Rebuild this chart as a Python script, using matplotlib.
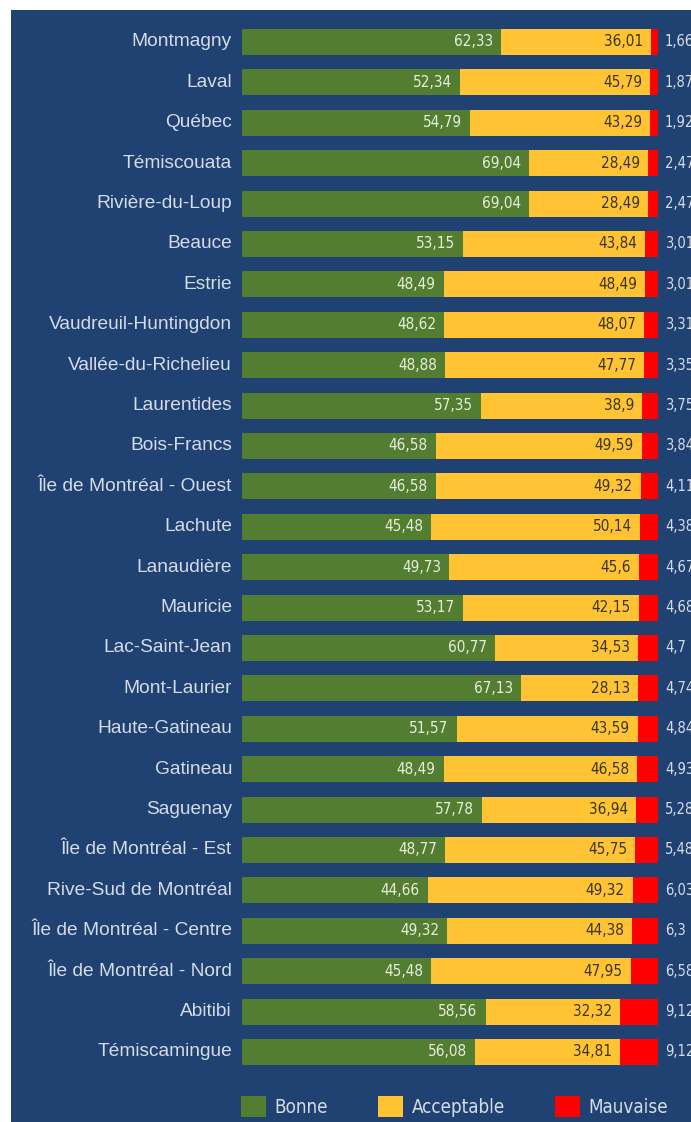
import matplotlib
matplotlib.use("Agg")
import matplotlib.pyplot as plt
from matplotlib.patches import Patch

regions = ["Montmagny", "Laval", "Québec", "Témiscouata", "Rivière-du-Loup", "Beauce",
           "Estrie", "Vaudreuil-Huntingdon", "Vallée-du-Richelieu", "Laurentides",
           "Bois-Francs", "Île de Montréal - Ouest", "Lachute", "Lanaudière", "Mauricie",
           "Lac-Saint-Jean", "Mont-Laurier", "Haute-Gatineau", "Gatineau", "Saguenay",
           "Île de Montréal - Est", "Rive-Sud de Montréal", "Île de Montréal - Centre",
           "Île de Montréal - Nord", "Abitibi", "Témiscamingue"]
bonne = [62.33, 52.34, 54.79, 69.04, 69.04, 53.15, 48.49, 48.62, 48.88, 57.35,
         46.58, 46.58, 45.48, 49.73, 53.17, 60.77, 67.13, 51.57, 48.49, 57.78,
         48.77, 44.66, 49.32, 45.48, 58.56, 56.08]
acceptable = [36.01, 45.79, 43.29, 28.49, 28.49, 43.84, 48.49, 48.07, 47.77, 38.9,
              49.59, 49.32, 50.14, 45.6, 42.15, 34.53, 28.13, 43.59, 46.58, 36.94,
              45.75, 49.32, 44.38, 47.95, 32.32, 34.81]
mauvaise = [1.66, 1.87, 1.92, 2.47, 2.47, 3.01, 3.01, 3.31, 3.35, 3.75,
            3.84, 4.11, 4.38, 4.67, 4.68, 4.7, 4.74, 4.84, 4.93, 5.28,
            5.48, 6.03, 6.3, 6.58, 9.12, 9.12]
series_names = ["Bonne", "Acceptable", "Mauvaise"]

BG = "#1F4272"
GREEN = "#537E32"
YELLOW = "#FFC333"
RED = "#FF0000"
LIGHT = "#D5DCE6"

W, H = 691, 1122
fig = plt.figure(figsize=(W / 100, H / 100), dpi=100)
fig.patch.set_facecolor("white")

ax = fig.add_axes([11 / W, 0, (W - 11) / W, (H - 10) / H])
ax.set_facecolor(BG)
for s in ax.spines.values():
    s.set_visible(False)

px_per_unit = 4.16
x0_px = 242
row_px = 40.4
first_px = 42
ax.set_xlim((11 - x0_px) / px_per_unit, (W - x0_px) / px_per_unit)
ax.set_ylim((H - first_px) / row_px, (10 - first_px) / row_px)
ax.set_xticks([])
ax.set_yticks([])

y = list(range(len(regions)))
bh = 26 / row_px
ax.barh(y, bonne, height=bh, color=GREEN, linewidth=0)
ax.barh(y, acceptable, left=bonne, height=bh, color=YELLOW, linewidth=0)
left3 = [b + a for b, a in zip(bonne, acceptable)]
ax.barh(y, mauvaise, left=left3, height=bh, color=RED, linewidth=0)

def fmt(v):
    return f"{v:g}".replace(".", ",")

cfont = ["Liberation Sans", "DejaVu Sans"]
vfont = ["DejaVu Sans"]
pad = 8 / px_per_unit
for i in y:
    ax.text(-10 / px_per_unit, i, regions[i], ha="right", va="center",
            fontsize=13.8, color=LIGHT, family=cfont)
    ax.text(bonne[i] - pad, i, fmt(bonne[i]), ha="right", va="center",
            fontsize=11, color="#E8EEDD", family=vfont, stretch="condensed")
    ax.text(left3[i] - pad, i, fmt(acceptable[i]), ha="right", va="center",
            fontsize=11, color="#3A3520", family=vfont, stretch="condensed")
    ax.text(left3[i] + mauvaise[i] + 7 / px_per_unit, i, fmt(mauvaise[i]), ha="left",
            va="center", fontsize=10.5, color=LIGHT, family=vfont, stretch="condensed")

handles = [Patch(facecolor=c, edgecolor="none") for c in (GREEN, YELLOW, RED)]
leg = ax.legend(handles, series_names, ncol=3, loc="upper left",
                bbox_to_anchor=((241 - 11) / (W - 11), (H - 1096) / (H - 10)),
                frameon=False, handlelength=1.35, handleheight=1.35,
                handletextpad=0.45, columnspacing=2.65, borderpad=0, borderaxespad=0,
                prop={"family": vfont, "size": 13.5, "stretch": "condensed"})
for t in leg.get_texts():
    t.set_color(LIGHT)

fig.savefig("out.png", dpi=100, facecolor="white")
